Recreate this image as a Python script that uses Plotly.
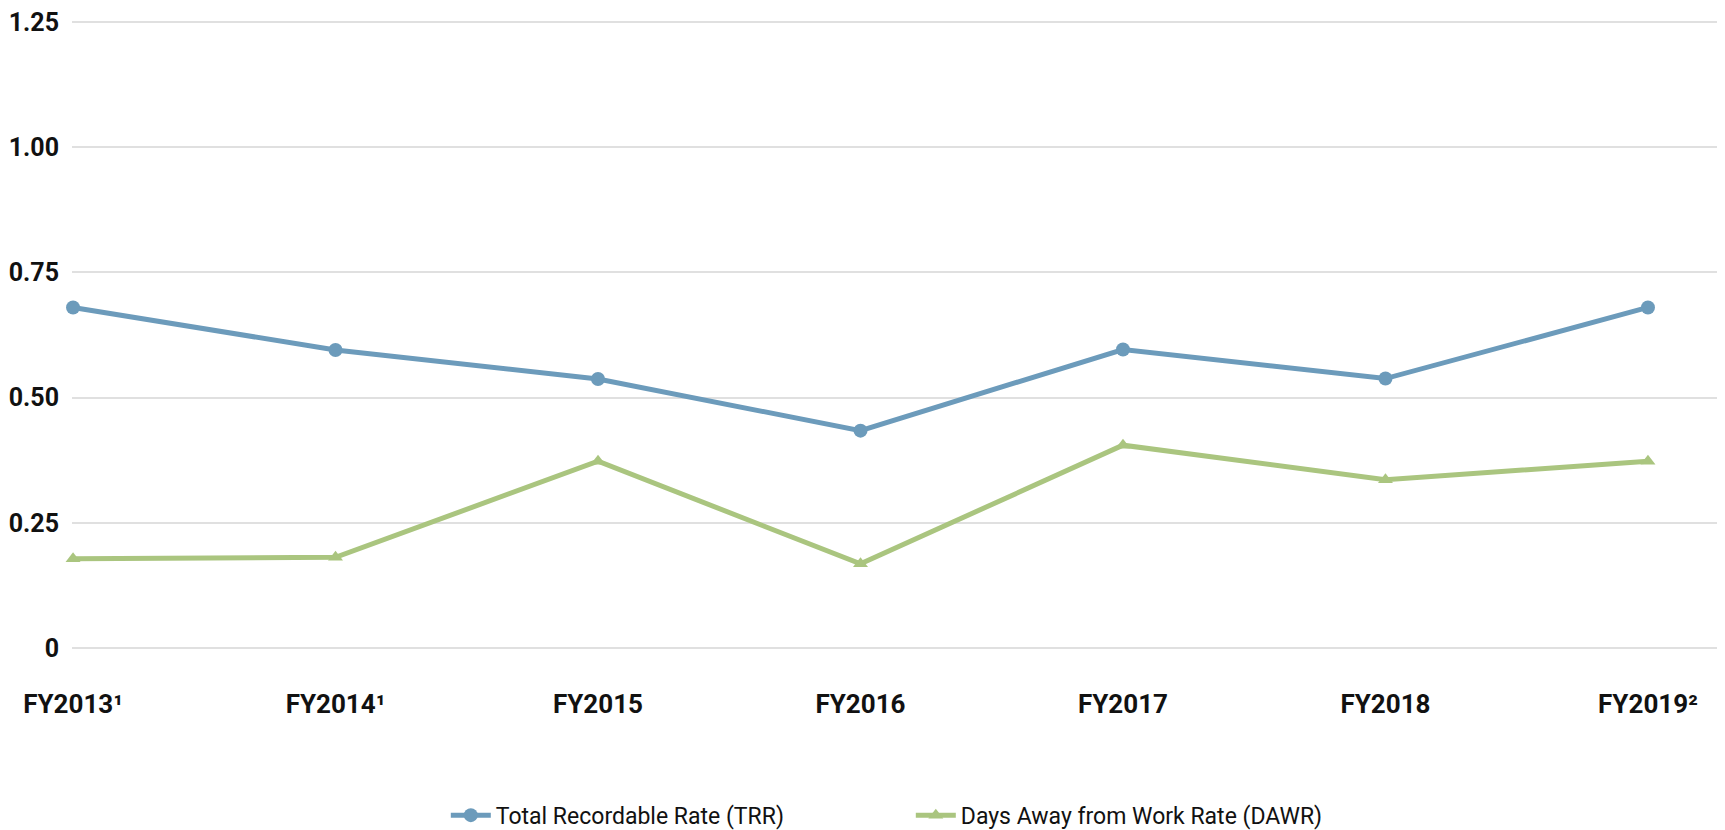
import plotly.graph_objects as go

categories = ["FY2013¹", "FY2014¹", "FY2015", "FY2016", "FY2017", "FY2018", "FY2019²"]
trr = [0.68, 0.595, 0.537, 0.434, 0.596, 0.538, 0.68]
dawr = [0.178, 0.181, 0.373, 0.168, 0.405, 0.336, 0.373]
y_tickvals = [0, 0.25, 0.5, 0.75, 1.0, 1.25]
y_ticktext = ["0", "0.25", "0.50", "0.75", "1.00", "1.25"]

BLUE = "#6C9BBB"
GREEN = "#AAC57F"

fig = go.Figure()
fig.add_trace(go.Scatter(
    x=categories, y=trr, mode="lines+markers", name="Total Recordable Rate (TRR)",
    line=dict(color=BLUE, width=5),
    marker=dict(symbol="circle", size=14, color=BLUE),
    cliponaxis=False,
))
fig.add_trace(go.Scatter(
    x=categories, y=dawr, mode="lines+markers", name="Days Away from Work Rate (DAWR)",
    line=dict(color=GREEN, width=5),
    marker=dict(symbol="triangle-up", size=13, color=GREEN),
    cliponaxis=False,
))

fig.update_layout(
    width=1725, height=830,
    margin=dict(l=64, r=0, t=5, b=185),
    paper_bgcolor="white", plot_bgcolor="white",
    showlegend=True,
    legend=dict(
        orientation="h", x=0.505, xanchor="center", y=-0.255, yanchor="middle",
        font=dict(family="Roboto", size=23, color="#111111"),
        entrywidth=410,
        itemwidth=40,
    ),
    xaxis=dict(
        type="category", range=[-0.004, 6.324],
        showgrid=False, zeroline=False, showline=False, ticks="",
        tickfont=dict(family="Roboto", size=26, color="#111111", weight="bold"),
        ticklabelstandoff=33,
    ),
    yaxis=dict(
        range=[-0.01, 1.26], tickvals=y_tickvals, ticktext=y_ticktext,
        showgrid=True, gridcolor="#E0E0E0", gridwidth=2,
        zeroline=False, showline=False, ticks="",
        tickfont=dict(family="Roboto", size=25, color="#111111", weight="bold"),
        ticklabelstandoff=12,
        ticklabeloverflow="allow",
    ),
)

fig.write_html("out.html")
